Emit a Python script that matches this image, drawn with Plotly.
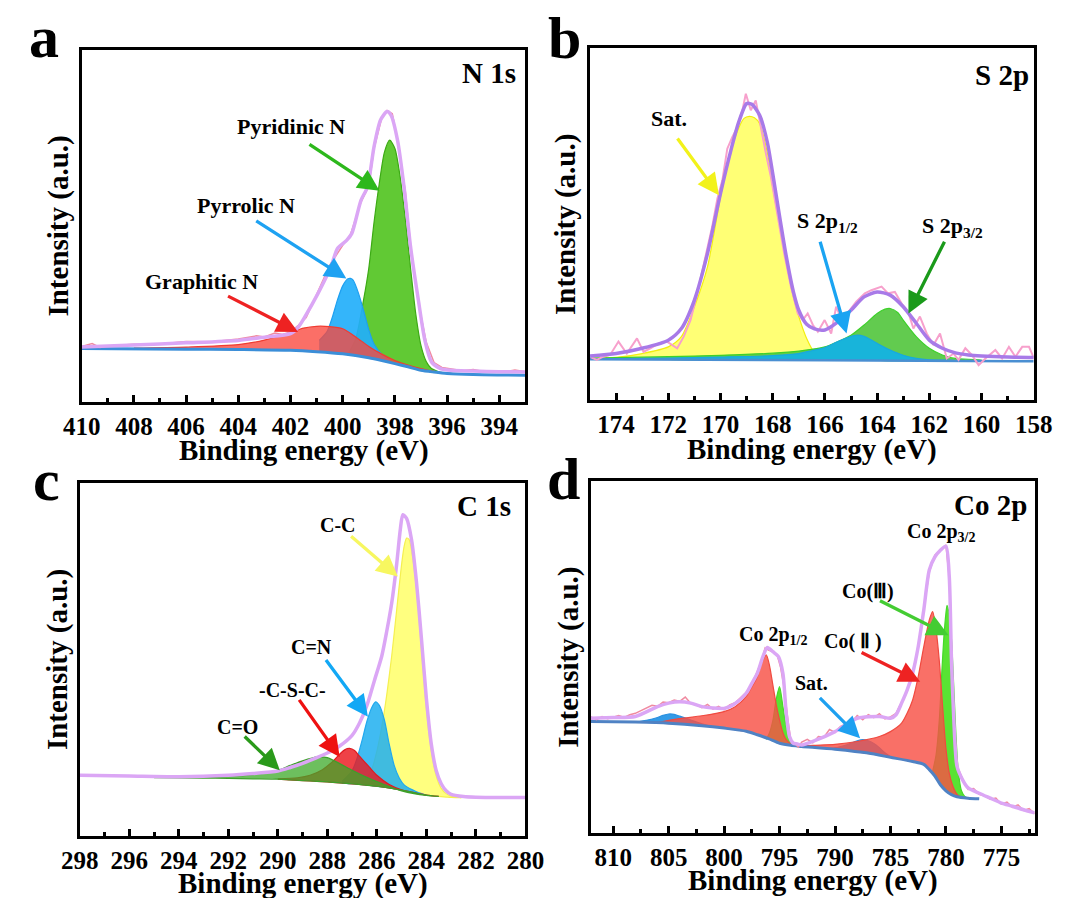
import numpy as np
import plotly.graph_objects as go

FONT = "Liberation Serif"
W, H = 1072, 898

# ---------------- Panel a : N 1s ----------------
a_base_x = [410, 406, 404, 402, 401, 400, 399, 398.5, 398, 397.5, 397, 396.5, 396, 395, 393]
a_base_y = [15.2, 15.0, 14.9, 14.7, 14.3, 13.7, 12.6, 11.8, 10.9, 10.0, 9.0, 8.5, 8.1, 7.8, 7.6]
a_env_x = [410, 408, 406, 404, 403, 402, 401.7, 401.45, 400.95, 400.45, 400.2, 399.85, 399.65, 399.3, 399.05,
           398.8, 398.55, 398.3, 398.15, 397.9, 397.65, 397.4, 397.1, 396.85, 396.6, 396.25, 395.85, 395, 394, 393]
a_env_y = [15.6, 16.2, 16.8, 17.5, 18.4, 19.4, 21.3, 24.2, 30.8, 38.4, 43.6, 45.9, 47.9, 57.3, 61.1,
           72.5, 80.1, 82.5, 81.5, 74.4, 61.1, 44.1, 28.9, 17.5, 11.4, 9.5, 9.0, 8.8, 8.6, 8.5]
a_raw_x = [410, 409.6, 409.3, 409, 408, 407, 406, 405, 404, 403.3, 403, 402.6, 402.3, 402, 401.7, 401.4, 401,
           400.5, 400, 399.7, 399.3, 399, 398.8, 398.5, 398.3, 398.1, 397.9, 397.6, 397.4, 397.1, 396.8, 396.5,
           396.2, 395.8, 395.4, 395, 394.6, 394.2, 393.8, 393.4, 393]
a_raw_y = [15.8, 16.6, 15.5, 15.9, 16.4, 16.5, 17.2, 17.1, 17.9, 18.8, 18.5, 19.6, 19.2, 19.9, 21.8, 24.0, 30.5,
           38.8, 44.5, 47.6, 56.8, 61.3, 72.0, 80.8, 82.8, 81.9, 74.5, 59.8, 44.6, 28.2, 17.0, 11.2,
           9.8, 9.3, 8.9, 9.2, 8.7, 8.9, 8.6, 9.1, 8.6]
a_pyridinic_x = [399.8, 399.5, 399.2, 399.0, 398.8, 398.6, 398.4, 398.2, 398.0, 397.8, 397.6, 397.4, 397.2, 397.0, 396.8, 396.6, 396.3]
a_pyridinic_y = [13.5, 18.0, 29.0, 38.0, 51.0, 62.0, 71.0, 74.4, 72.0, 64.0, 52.0, 38.0, 25.0, 16.0, 11.5, 9.5, 8.5]
a_pyrrolic_x = [400.9, 400.6, 400.4, 400.2, 400.0, 399.8, 399.7, 399.6, 399.4, 399.2, 399.0, 398.8, 398.5, 398.2]
a_pyrrolic_y = [17.5, 20.0, 24.0, 29.0, 33.0, 35.0, 35.1, 34.6, 31.0, 26.0, 20.5, 16.5, 13.5, 11.8]
a_graphitic_x = [408, 406, 404, 403, 402, 401.5, 401, 400.5, 400, 399.5, 399, 398.5, 398, 397.5, 397, 396.5, 396, 395]
a_graphitic_y = [15.3, 15.6, 16.3, 17.6, 19.8, 21.0, 21.5, 21.4, 20.8, 18.5, 15.8, 13.6, 11.8, 10.5, 9.5, 8.7, 8.2, 7.8]

# ---------------- Panel b : S 2p ----------------
b_base_x = [175, 166, 158]
b_base_y = [11.6, 11.3, 11.0]
b_env_x = [175, 174, 173, 172, 171.5, 171, 170.5, 170, 169.6, 169.3, 169, 168.8, 168.5, 168.2, 168, 167.7, 167.5,
           167.2, 167, 166.7, 166.4, 166, 165.5, 165, 164.5, 164, 163.5, 163, 162.5, 162, 161.5, 161, 160.5, 160, 159, 158]
b_env_y = [12.5, 13.2, 14.7, 17.0, 20.3, 28.4, 41.6, 58.7, 71.0, 79.0, 84.2, 84.0, 80.9, 73.0, 64.3, 50.5, 41.6,
           30.5, 25.5, 21.5, 20.2, 19.9, 22.2, 25.5, 29.3, 30.7, 29.8, 26.5, 21.8, 17.0, 14.7, 13.4, 12.8, 12.5, 12.2, 12.1]
b_raw_x = [174.96, 174.74, 174.49, 174.23, 173.91, 173.59, 173.2, 172.95, 172.69, 172.37, 172.05, 171.66, 171.41,
           171.15, 170.89, 170.64, 170.32, 170.12, 169.93, 169.74, 169.55, 169.35, 169.16, 169.03, 168.84, 168.65,
           168.45, 168.26, 168.07, 167.81, 167.56, 167.3, 167.04, 166.85, 166.66, 166.46, 166.27, 166.01, 165.76,
           165.57, 165.31, 165.05, 164.8, 164.47, 164.22, 163.83, 163.58, 163.32, 163.06, 162.81, 162.61, 162.36,
           162.1, 161.84, 161.59, 161.33, 161.07, 160.88, 160.62, 160.37, 160.11, 159.85, 159.47, 159.21, 158.95,
           158.7, 158.44, 158.18, 157.99]
b_raw_y = [12.1, 11.4, 12.3, 12.8, 16.6, 13.2, 17.5, 13.7, 14.7, 16.1, 16.6, 14.7, 18.0,
           22.7, 30.3, 38.8, 49.2, 57.2, 62.4, 71.4, 74.7, 77.6, 82.3, 87.0, 82.3, 85.1,
           77.1, 70.0, 63.4, 52.0, 41.6, 32.2, 24.6, 22.7, 24.6, 21.3, 19.4, 22.7, 18.9,
           26.5, 22.2, 25.5, 27.9, 30.3, 31.2, 32.2, 30.3, 30.7, 27.4, 25.1, 20.3, 23.7,
           18.9, 15.6, 18.9, 11.8, 13.2, 11.4, 14.7, 12.8, 9.9, 11.8, 14.2, 11.8, 15.1,
           12.3, 15.1, 15.1, 11.8]
b_sat_x = [175, 174, 173, 172, 171.5, 171, 170.5, 170, 169.7, 169.4, 169.1, 168.9, 168.7, 168.5, 168.2, 168,
           167.7, 167.5, 167.2, 167, 166.7, 166.4, 166]
b_sat_y = [11.8, 12.1, 13.2, 15.1, 18.0, 26.5, 37.8, 57.7, 68.0, 75.5, 80.0, 80.6, 80.2, 78.5, 70.0, 60.5,
           48.0, 39.7, 29.0, 23.7, 17.5, 13.5, 11.4]
b_p12_x = [175, 172, 170, 168, 167, 166.5, 166, 165.5, 165, 164.8, 164.5, 164, 163.5, 163, 162.5, 162, 161]
b_p12_y = [11.7, 11.9, 12.2, 12.6, 13.2, 14.0, 14.9, 16.6, 18.1, 18.4, 18.1, 16.1, 14.2, 12.7, 11.8, 11.4, 11.2]
b_p32_x = [175, 172, 170, 168, 167, 166, 165.5, 165, 164.5, 164, 163.7, 163.5, 163.2, 163, 162.5, 162, 161.5, 161, 160]
b_p32_y = [11.9, 12.3, 12.7, 13.3, 13.9, 15.1, 16.6, 18.4, 21.3, 24.6, 25.8, 26.0, 24.8, 22.7, 18.0, 14.7, 12.8, 11.8, 11.3]

# ---------------- Panel c : C 1s ----------------
c_base_x = [298, 294, 292, 290, 288, 287, 286, 285.5, 285, 284.5, 284, 283.5, 283, 282, 280]
c_base_y = [16.7, 16.5, 16.3, 16.1, 15.3, 14.8, 14.1, 13.6, 13.0, 12.3, 11.6, 11.2, 10.9, 10.7, 10.6]
c_env_x = [298, 296, 294, 292, 291, 290, 289.5, 289, 288.5, 288, 287.5, 287, 286.7, 286.4, 286.1, 285.8, 285.6,
           285.4, 285.2, 285.05, 284.95, 284.8, 284.6, 284.4, 284.2, 284.0, 283.8, 283.6, 283.4, 283.2, 283.0,
           282.5, 282, 281, 280]
c_env_y = [17.2, 17.0, 16.8, 17.2, 17.7, 18.4, 19.4, 20.6, 22.0, 23.5, 25.5, 28.5, 32.0, 37.0, 44.0, 51.0, 58.0,
           66.0, 77.0, 87.0, 91.0, 90.0, 84.0, 72.0, 56.0, 39.0, 26.0, 18.5, 14.8, 12.8, 11.8,
           11.2, 11.0, 10.9, 10.9]
c_cc_x = [287, 286.5, 286.2, 286, 285.8, 285.6, 285.4, 285.2, 285.0, 284.9, 284.8, 284.7, 284.6, 284.4, 284.2,
          284.0, 283.8, 283.6, 283.4, 283.2, 283.0, 282.6]
c_cc_y = [14.8, 16.0, 19.0, 24.0, 31.0, 40.0, 51.0, 64.0, 77.0, 82.0, 84.4, 84.0, 81.0, 70.0, 53.0,
          36.0, 24.0, 17.0, 13.5, 12.0, 11.3, 10.8]
c_cn_x = [287.4, 287.0, 286.8, 286.6, 286.4, 286.2, 286.05, 285.9, 285.7, 285.5, 285.3, 285.1, 284.9, 284.6, 284.3, 284.0]
c_cn_y = [15.5, 18.5, 22.0, 27.0, 32.5, 36.5, 38.0, 37.0, 33.0, 26.0, 20.0, 16.5, 14.5, 13.2, 12.2, 11.6]
c_csc_x = [290, 289.2, 288.7, 288.2, 287.8, 287.5, 287.3, 287.1, 286.9, 286.7, 286.3, 286.0, 285.5, 285.0, 284.5, 284.0, 283.5]
c_csc_y = [16.2, 16.5, 17.2, 18.8, 21.0, 23.2, 24.4, 24.8, 24.2, 22.6, 19.5, 17.2, 14.6, 13.1, 12.3, 11.6, 11.2]
c_co_x = [295, 293, 292, 291, 290, 289.5, 289, 288.4, 288, 287.5, 287, 286.5, 286, 285.5, 285, 284.5, 284, 283.5]
c_co_y = [16.6, 16.7, 16.9, 17.4, 18.6, 20.0, 21.3, 22.4, 22.2, 20.5, 18.6, 16.9, 15.4, 14.0, 12.8, 12.0, 11.5, 11.2]

# ---------------- Panel d : Co 2p ----------------
d_base_x = [812, 808, 805, 802, 800, 798, 797, 796, 795, 794, 793, 790, 787, 785, 783, 782, 781.5, 781, 780.5,
            780, 779.5, 779, 778, 777]
d_base_y = [31.7, 31.5, 31.2, 30.5, 29.8, 28.9, 27.9, 26.8, 25.5, 24.9, 24.6, 23.8, 22.7, 21.5, 20.3, 19.5, 18.0,
            16.2, 13.7, 12.0, 10.9, 10.3, 9.9, 9.7]
d_env_x = [812, 810, 808, 806, 805, 804, 803, 802, 800, 799, 798, 797.5, 797, 796.5, 796.1, 795.6, 795.1, 794.7,
           794.4, 794.1, 793.75, 793.4, 793, 792, 790, 788, 786, 785, 784.5, 784, 783.5, 783, 782.5, 782, 781.5,
           781, 780.5, 780, 779.7, 779.5, 779.3, 779, 778.5, 778, 777, 776, 775, 774, 773, 772]
d_env_y = [32.6, 32.8, 33.1, 35.9, 36.9, 37.3, 36.9, 35.9, 35.4, 36.8, 39.7, 42.5, 45.4, 50.1, 52.7, 51.5, 50.1, 45.4,
           34.0, 27.4, 25.5, 25.3, 25.0, 26.0, 28.8, 32.6, 33.1, 32.6, 33.6, 36.9, 40.6, 45.4, 52.9, 63.3, 74.7,
           78.4, 80.3, 81.5, 72.8, 49.1, 33.0, 18.9, 15.1, 12.8, 11.3, 9.9, 8.5, 7.6, 6.6, 5.7]
d_raw_x = [812, 811.5, 811, 810.5, 810, 809.5, 809, 808.5, 808, 807.5, 807, 806.5, 806, 805.5, 805,
           804.5, 804, 803.5, 803, 802.5, 802, 801.5, 801, 800.5, 800, 799.5, 799, 798.5, 798, 797.5, 797,
           796.6, 796.3, 796, 795.6, 795.2, 794.9, 794.6, 794.3, 794, 793.7, 793.3,
           793, 792.5, 792, 791.5, 791, 790.5, 790, 789.5, 789, 788.5, 788, 787.5, 787, 786.5, 786, 785.5, 785,
           784.5, 784, 783.5, 783, 782.5, 782, 781.5, 781, 780.5, 780, 779.7, 779.5, 779.3, 779,
           778.5, 778, 777.5, 777, 776.5, 776, 775.5, 775, 774.5, 774, 773.5, 773, 772.5, 772]
d_raw_y = [33.0, 32.2, 33.1, 32.5, 32.9, 33.4, 32.8, 33.6, 34.0, 34.8, 35.5, 36.3, 36.0, 37.2, 37.0,
           37.8, 37.4, 38.6, 36.8, 36.4, 35.6, 36.5, 35.2, 36.0, 35.0, 36.4, 37.0, 38.6, 40.0, 42.2, 45.8,
           49.0, 52.6, 52.0, 51.5, 50.4, 47.0, 41.5, 33.5, 26.5, 25.6, 24.4,
           25.8, 26.6, 25.6, 27.4, 27.2, 29.4, 28.6, 30.3, 31.0, 31.5, 33.4, 32.2, 33.6, 32.8, 33.9, 32.4, 33.0,
           34.0, 37.2, 40.2, 45.8, 52.6, 63.5, 74.2, 78.9, 80.5, 81.8, 72.5, 49.5, 33.5, 19.2,
           15.3, 12.4, 12.6, 11.0, 10.5, 9.6, 9.9, 8.2, 8.8, 7.3, 8.0, 6.4, 6.9, 5.5]
d_co2_main_x = [793.5, 792, 790, 788, 786, 785, 784, 783.5, 783, 782.5, 782, 781.5, 781.2, 780.9, 780.6, 780.3,
                780.0, 779.7, 779.4, 779.0, 778.5]
d_co2_main_y = [24.6, 24.9, 25.2, 26.0, 27.4, 28.8, 31.2, 34.0, 37.8, 44.4, 52.9, 60.5, 62.9, 58.0, 49.0, 36.0,
                24.0, 17.0, 13.5, 11.0, 10.0]
d_co2_p12_x = [806, 804, 802, 800, 799, 798, 797.5, 797, 796.6, 796.2, 795.9, 795.6, 795.3, 795.0, 794.7, 794.4, 794.0, 793.5]
d_co2_p12_y = [31.4, 32.5, 33.3, 34.5, 35.9, 38.8, 41.5, 44.4, 48.5, 50.6, 47.5, 42.0, 36.5, 32.1, 28.5, 26.5, 25.3, 24.6]
d_co3_main_x = [781.2, 780.9, 780.6, 780.4, 780.2, 780.0, 779.9, 779.7, 779.5, 779.3, 779.1, 778.9, 778.6, 778.3, 778.0]
d_co3_main_y = [17.5, 22.0, 32.0, 44.0, 55.0, 62.5, 64.7, 62.0, 55.0, 42.0, 28.0, 18.0, 12.0, 10.4, 9.9]
d_co3_p12_x = [796.2, 795.9, 795.6, 795.3, 795.0, 794.7, 794.4, 794.1, 793.8]
d_co3_p12_y = [26.6, 28.5, 32.0, 38.0, 41.6, 36.0, 30.2, 26.5, 25.2]
d_sat1_x = [808, 807, 806, 805.5, 805, 804.5, 804, 803, 802, 801]
d_sat1_y = [31.5, 32.0, 32.8, 33.4, 33.8, 33.7, 33.2, 32.1, 31.0, 30.2]
d_sat2_x = [791, 790, 789, 788.5, 788, 787.5, 787, 786.5, 786, 785.5, 785]
d_sat2_y = [24.1, 24.2, 25.0, 25.6, 26.2, 26.5, 26.2, 25.4, 24.2, 22.8, 21.6]

# ---------------- figure ----------------
fig = go.Figure()

panels = [
    # key, axis suffix, pixel box (x0, x1, y0, y1), x range, dtick, minor dtick, title offset, y-title x
    ("a", "", (65, 525, 50, 402), [410, 393], 2, 1, 48, 41),
    ("b", "2", (592, 1052, 48, 400), [175, 158], 2, 1, 49, 566),
    ("c", "3", (63, 525, 483, 836), [298, 280], 2, 1, 47, 40),
    ("d", "4", (593, 1053, 481, 833), [812, 772], 5, 2.5, 47, 569),
]

layout_axes = {}
for key, s, (x0, x1, y0, y1), xr, dt, mdt, toff, yx in panels:
    layout_axes["xaxis" + s] = dict(
        domain=[x0 / W, x1 / W], range=xr, anchor="y" + s,
        showline=True, mirror=True, linecolor="black", linewidth=3,
        ticks="inside", ticklen=7, tickwidth=3, tickcolor="black",
        dtick=dt, tick0=0, showgrid=False, zeroline=False,
        tickfont=dict(family=FONT, size=25, color="black", weight="bold"),
        ticklabelstandoff=0,
        minor=dict(ticks="inside", ticklen=4, tickwidth=2.5, tickcolor="black", dtick=mdt, tick0=0, showgrid=False),
    )
    layout_axes["yaxis" + s] = dict(
        domain=[1 - y1 / H, 1 - y0 / H], range=[0, 100], anchor="x" + s,
        showline=True, mirror=True, linecolor="black", linewidth=3,
        ticks="", showticklabels=False, showgrid=False, zeroline=False,
    )


def ax(s):
    return dict(xaxis="x" + s, yaxis="y" + s)


def component(s, xs, ys, bx, by, fill, line, lw=1.2):
    xs = np.asarray(xs, float)
    ys = np.asarray(ys, float)
    assert len(xs) == len(ys)
    bxa = np.asarray(bx, float)[::-1]
    bya = np.asarray(by, float)[::-1]
    b = np.interp(xs, bxa, bya)
    px = list(xs) + list(xs[::-1])
    py = list(ys) + list(b[::-1])
    fig.add_trace(go.Scatter(x=px, y=py, mode="lines", fill="toself", fillcolor=fill,
                             line=dict(color=line, width=lw, shape="spline", smoothing=0.7),
                             hoverinfo="skip", showlegend=False, **ax(s)))


def curve(s, xs, ys, color, width, shape="spline"):
    assert len(xs) == len(ys)
    line = dict(color=color, width=width, shape=shape)
    if shape == "spline":
        line["smoothing"] = 0.7
    fig.add_trace(go.Scatter(x=xs, y=ys, mode="lines", line=line,
                             hoverinfo="skip", showlegend=False, **ax(s)))


# Panel a
component("", a_pyridinic_x, a_pyridinic_y, a_base_x, a_base_y, "rgba(80,195,30,0.9)", "rgba(60,170,20,1)")
component("", a_pyrrolic_x, a_pyrrolic_y, a_base_x, a_base_y, "rgba(35,175,250,0.92)", "rgba(30,160,240,1)")
component("", a_graphitic_x, a_graphitic_y, a_base_x, a_base_y, "rgba(250,70,60,0.78)", "rgba(240,60,50,1)")
curve("", a_base_x, a_base_y, "#3b8ed8", 3)
curve("", a_raw_x, a_raw_y, "#f08aa0", 1.5, shape="linear")
curve("", a_env_x, a_env_y, "#dba6f5", 3.5)

# Panel b
component("2", b_sat_x, b_sat_y, b_base_x, b_base_y, "rgba(255,255,110,0.95)", "#f2ee10")
component("2", b_p32_x, b_p32_y, b_base_x, b_base_y, "rgba(90,200,70,0.95)", "#3dd12a")
component("2", b_p12_x, b_p12_y, b_base_x, b_base_y, "rgba(20,178,225,0.95)", "#18a8e0")
curve("2", b_base_x, b_base_y, "#4a8fd2", 2.5)
curve("2", b_raw_x, b_raw_y, "#f7a0cc", 2, shape="linear")
curve("2", b_env_x, b_env_y, "#a87ae8", 3.5)

# Panel c
component("3", c_cc_x, c_cc_y, c_base_x, c_base_y, "rgba(255,255,120,0.95)", "#f5f050")
component("3", c_cn_x, c_cn_y, c_base_x, c_base_y, "rgba(30,175,240,0.85)", "#20a8ee")
component("3", c_csc_x, c_csc_y, c_base_x, c_base_y, "rgba(235,25,30,0.82)", "#e01a20")
component("3", c_co_x, c_co_y, c_base_x, c_base_y, "rgba(60,170,40,0.75)", "#3da02a")
curve("3", c_env_x, c_env_y, "#dba6f5", 3.5)

# Panel d
component("4", d_co3_main_x, d_co3_main_y, d_base_x, d_base_y, "rgba(80,225,40,0.95)", "#45d82a")
component("4", d_co3_p12_x, d_co3_p12_y, d_base_x, d_base_y, "rgba(80,225,40,0.95)", "#45d82a")
component("4", d_sat1_x, d_sat1_y, d_base_x, d_base_y, "rgba(40,150,230,0.95)", "#2a90e0")
component("4", d_sat2_x, d_sat2_y, d_base_x, d_base_y, "rgba(40,150,230,0.95)", "#2a90e0")
component("4", d_co2_main_x, d_co2_main_y, d_base_x, d_base_y, "rgba(248,80,70,0.82)", "#f04a40")
component("4", d_co2_p12_x, d_co2_p12_y, d_base_x, d_base_y, "rgba(248,80,70,0.82)", "#f04a40")
curve("4", d_base_x, d_base_y, "#4f82c4", 3)
curve("4", d_raw_x, d_raw_y, "#f08aa0", 1.5, shape="linear")
curve("4", d_env_x, d_env_y, "#dba6f5", 3.5)

# ---------------- annotations ----------------
ann = []


def label(s, x, y, text, size=22, xanchor="center"):
    ann.append(dict(x=x, y=y, xref="x" + s, yref="y" + s, text=text, showarrow=False,
                    xanchor=xanchor, yanchor="middle",
                    font=dict(family=FONT, size=size, color="black", weight="bold")))


def arrow(s, tx, ty, hx, hy, color):
    ann.append(dict(x=hx, y=hy, ax=tx, ay=ty, xref="x" + s, yref="y" + s, axref="x" + s, ayref="y" + s,
                    text="", showarrow=True, arrowhead=2, arrowsize=1.3, arrowwidth=3.3, arrowcolor=color))


# a
label("", 393.3, 93.4, "N 1s", 29, "right")
label("", 401.97, 78.2, "Pyridinic N")
arrow("", 401.33, 73.5, 398.59, 60.0, "#2db81c")
label("", 403.69, 55.7, "Pyrrolic N")
arrow("", 403.37, 51.7, 399.86, 35.1, "#1ea2f2")
label("", 405.41, 34.1, "Graphitic N")
arrow("", 404.45, 30.3, 401.71, 19.9, "#ee2222")
# b
label("2", 158.1, 92.2, "S 2p", 29, "right")
label("2", 171.98, 79.9, "Sat.")
arrow("2", 171.69, 74.7, 170.06, 58.2, "#f2f21a")
label("2", 165.9, 50.6, "S 2p<sub>1/2</sub>")
arrow("2", 166.2, 45.4, 165.17, 18.9, "#1aa4f2")
label("2", 161.1, 49.2, "S 2p<sub>3/2</sub>")
arrow("2", 161.39, 45.4, 162.8, 24.6, "#1a9a1a")
# c
label("3", 280.5, 93.4, "C 1s", 29, "right")
label("3", 287.57, 88.2, "C-C", 20)
arrow("3", 287.1, 85.3, 285.15, 73.5, "#f7f760")
label("3", 288.65, 53.6, "C=N", 20)
arrow("3", 288.1, 50.3, 286.36, 33.8, "#12a8f5")
label("3", 289.42, 41.3, "-C-S-C-", 20)
arrow("3", 289.18, 39.0, 287.5, 22.4, "#ee1111")
label("3", 291.63, 30.9, "C=O", 20)
arrow("3", 291.4, 28.6, 289.92, 18.6, "#2a9a1a")
# d
label("4", 780.4, 85.5, "Co 2p<sub>3/2</sub>", 20)
label("4", 772.55, 93.1, "Co 2p", 29, "right")
label("4", 786.99, 68.5, "Co(Ⅲ)", 20)
arrow("4", 786.08, 66.2, 779.77, 56.2, "#44cc33")
label("4", 788.34, 54.3, "Co( Ⅱ )", 20)
arrow("4", 787.74, 51.5, 782.32, 43.0, "#ee2222")
label("4", 795.6, 56.2, "Co 2p<sub>1/2</sub>", 20)
label("4", 792.1, 42.5, "Sat.", 20)
arrow("4", 791.5, 38.8, 787.74, 26.9, "#1ea0f0")


def paper_text(px, py, text, size, angle=0):
    ann.append(dict(x=px / W, y=1 - py / H, xref="paper", yref="paper", text=text, showarrow=False,
                    xanchor="center", yanchor="middle", textangle=angle,
                    font=dict(family=FONT, size=size, color="black", weight="bold")))


# panel letters
paper_text(26, 37, "a", 60)
paper_text(566, 38, "b", 60)
paper_text(29, 480, "c", 60)
paper_text(564, 479, "d", 60)
# axis titles
for key, s, (x0, x1, y0, y1), xr, dt, mdt, toff, yx in panels:
    paper_text((x0 + x1) / 2, y1 + toff, "Binding energy (eV)", 29)
    paper_text(yx, (y0 + y1) / 2, "Intensity (a.u.)", 29, angle=-90)

fig.update_layout(
    width=W, height=H, margin=dict(l=0, r=0, t=0, b=0),
    paper_bgcolor="white", plot_bgcolor="white",
    showlegend=False, annotations=ann, **layout_axes,
)

fig.write_html("out.html")
